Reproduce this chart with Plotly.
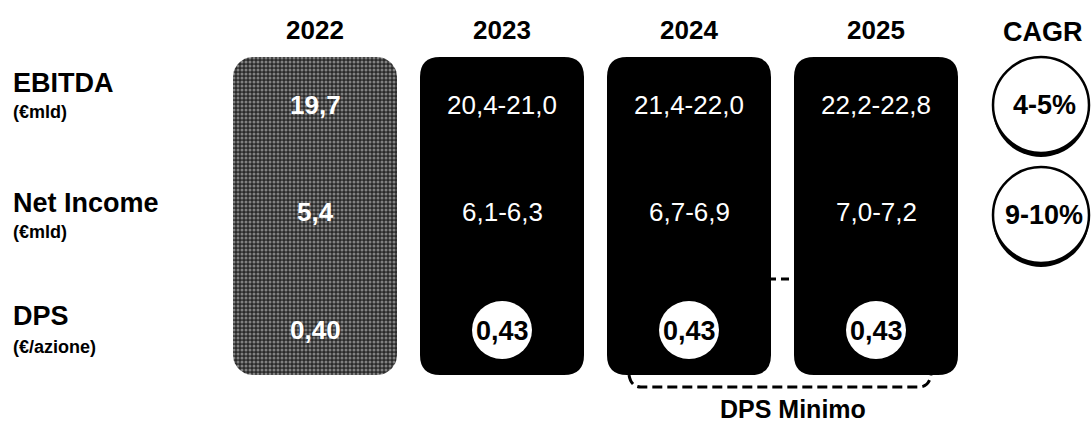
import numpy as np
import plotly.graph_objects as go

# ---- data ----
years = ["2022", "2023", "2024", "2025"]
ebitda = ["19,7", "20,4-21,0", "21,4-22,0", "22,2-22,8"]
net_income = ["5,4", "6,1-6,3", "6,7-6,9", "7,0-7,2"]
dps = ["0,40", "0,43", "0,43", "0,43"]
cagr_title = "CAGR"
cagr = ["4-5%", "9-10%"]
row_titles = ["EBITDA", "Net Income", "DPS"]
row_units = ["(€mld)", "(€mld)", "(€/azione)"]
dps_note = "DPS Minimo"

# ---- layout geometry (pixel space) ----
W, H = 1091, 424
FONT = "Liberation Sans, Arial, sans-serif"
x_first, pitch, half_w = 315, 187, 82
box_top, box_bot, rad = 57, 375, 20
row_y = [105, 212, 330]
title_y = [83, 203, 316]
unit_y = [112, 232, 347]
cagr_x, cagr_y, cagr_r = 1041, [105, 215], 48

fig = go.Figure()
shapes, annotations = [], []


def rrect_path(x0, y0, x1, y1, r):
    return (f"M {x0+r},{y0} L {x1-r},{y0} Q {x1},{y0} {x1},{y0+r} "
            f"L {x1},{y1-r} Q {x1},{y1} {x1-r},{y1} L {x0+r},{y1} "
            f"Q {x0},{y1} {x0},{y1-r} L {x0},{y0+r} Q {x0},{y0} {x0+r},{y0} Z")


def rrect_points(x0, y0, x1, y1, r, n=12):
    xs, ys = [], []
    corners = [(x1 - r, y0 + r, -np.pi / 2, 0), (x1 - r, y1 - r, 0, np.pi / 2),
               (x0 + r, y1 - r, np.pi / 2, np.pi), (x0 + r, y0 + r, np.pi, 1.5 * np.pi)]
    for cx, cy, a0, a1 in corners:
        t = np.linspace(a0, a1, n)
        xs += list(cx + r * np.cos(t))
        ys += list(cy + r * np.sin(t))
    xs.append(xs[0]); ys.append(ys[0])
    return xs, ys


def txt(x, y, s, size, color="black", bold=False, xanchor="center", pad=1):
    annotations.append(dict(
        x=x, y=y, xref="x", yref="y", text=f"<b>{s}</b>" if bold else s,
        showarrow=False, xanchor=xanchor, yanchor="middle", borderpad=pad,
        font=dict(family=FONT, size=size, color=color)))


# row labels
for t, u, ty, uy in zip(row_titles, row_units, title_y, unit_y):
    txt(11, ty, t, 27, bold=True, xanchor="left")
    txt(11, uy, u, 18, bold=True, xanchor="left")

# year columns
for i, yr in enumerate(years):
    cx = x_first + i * pitch
    x0, x1 = cx - half_w, cx + half_w
    if i == 0:
        xs, ys = rrect_points(x0, box_top, x1, box_bot, rad)
        fig.add_trace(go.Scatter(
            x=xs, y=ys, mode="lines", fill="toself", line=dict(width=0),
            fillcolor="#5e5e5e",
            fillpattern=dict(shape=".", bgcolor="#2a2a2a", fgcolor="#d8d8d8",
                             size=4, solidity=0.45),
            hoverinfo="skip", showlegend=False))
    else:
        shapes.append(dict(type="path", xref="x", yref="y",
                           path=rrect_path(x0, box_top, x1, box_bot, rad),
                           fillcolor="black", line=dict(width=0), layer="below"))
    txt(cx, 30, yr, 26, bold=True)
    bold = (i == 0)
    txt(cx, row_y[0], ebitda[i], 26, color="white", bold=bold)
    txt(cx, row_y[1], net_income[i], 26, color="white", bold=bold)
    if i == 0:
        txt(cx, row_y[2], dps[i], 26, color="white", bold=True)
    else:
        shapes.append(dict(type="circle", xref="x", yref="y",
                           x0=cx - 30, x1=cx + 30, y0=row_y[2] - 29, y1=row_y[2] + 29,
                           fillcolor="white", line=dict(width=0), layer="above"))
        txt(cx, row_y[2] + 1, dps[i], 27, bold=True)

# dashed connector for DPS minimo
c24 = x_first + 2 * pitch
c25 = x_first + 3 * pitch
shapes.append(dict(type="line", xref="x", yref="y", x0=c24 - 25, x1=c25 + 60,
                   y0=279, y1=279, line=dict(color="black", width=3, dash="8px,5px"),
                   layer="above"))
bx0, bx1, by = c24 - 60, c25 + 55, 387
shapes.append(dict(type="path", xref="x", yref="y",
                   path=f"M {bx0},{box_bot} Q {bx0+2},{by} {bx0+12},{by} L {bx1-12},{by} "
                        f"Q {bx1-2},{by} {bx1},{box_bot}",
                   line=dict(color="black", width=3, dash="10px,5px")))
txt((c24 + c25) / 2 + 10, 409, dps_note, 25, bold=True, pad=0)

# CAGR column
txt(cagr_x + 2, 32, cagr_title, 27, bold=True)
for cy, lab in zip(cagr_y, cagr):
    shapes.append(dict(type="circle", xref="x", yref="y",
                       x0=cagr_x - cagr_r, x1=cagr_x + cagr_r,
                       y0=cy - cagr_r + 4, y1=cy + cagr_r + 4,
                       fillcolor="black", line=dict(width=0)))
    shapes.append(dict(type="circle", xref="x", yref="y",
                       x0=cagr_x - cagr_r, x1=cagr_x + cagr_r,
                       y0=cy - cagr_r, y1=cy + cagr_r,
                       fillcolor="white", line=dict(color="black", width=2.5)))
    txt(cagr_x + 3, cy, lab, 27, bold=True)

fig.update_layout(
    width=W, height=H, margin=dict(l=0, r=0, t=0, b=0),
    paper_bgcolor="white", plot_bgcolor="white",
    xaxis=dict(range=[0, W], visible=False, fixedrange=True),
    yaxis=dict(range=[H, 0], visible=False, fixedrange=True),
    shapes=shapes, annotations=annotations, showlegend=False)

fig.write_html("out.html", config={"displayModeBar": False},
               post_script="document.body.style.margin='0';document.body.style.overflow='hidden';")
